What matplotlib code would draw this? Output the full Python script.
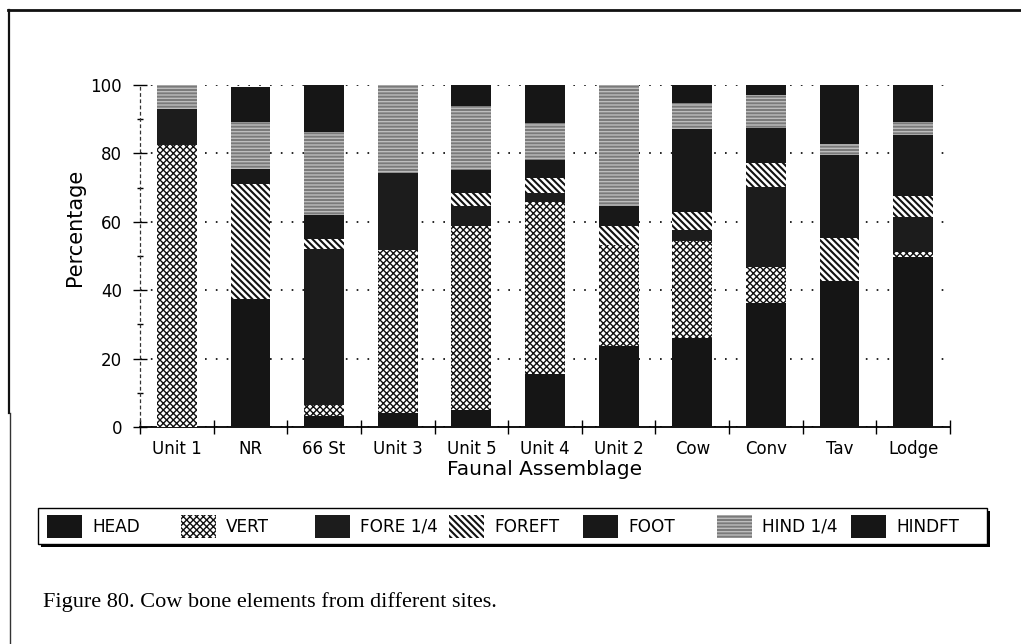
import numpy as np
import matplotlib
matplotlib.use("Agg")
import matplotlib.pyplot as plt
from matplotlib.patches import Rectangle
from matplotlib.lines import Line2D

# ----------------------------------------------------------------------
# Data: percentage of each cow bone element per site
# ----------------------------------------------------------------------
sites = ["Unit 1", "NR", "66 St", "Unit 3", "Unit 5", "Unit 4",
         "Unit 2", "Cow", "Conv", "Tav", "Lodge"]

elements = ["HEAD", "VERT", "FORE 1/4", "FOREFT", "FOOT", "HIND 1/4", "HINDFT"]

head    = [0.0, 37.4, 3.1, 4.1, 5.1, 15.6, 23.6, 26.0, 36.4, 42.8, 49.7]
vert    = [82.4, 0.0, 3.4, 47.7, 53.7, 50.3, 29.7, 28.5, 10.5, 0.0, 1.6]
fore_q  = [10.5, 0.0, 45.6, 22.4, 5.7, 2.6, 0.0, 3.1, 23.2, 0.0, 10.2]
foreft  = [0.0, 33.6, 2.8, 0.0, 3.9, 4.2, 5.6, 5.4, 7.0, 12.4, 5.9]
foot    = [0.0, 4.4, 7.1, 0.0, 6.8, 5.4, 5.8, 24.0, 10.2, 24.4, 18.0]
hind_q  = [7.1, 13.9, 24.4, 25.8, 18.7, 10.7, 35.3, 7.6, 9.8, 3.2, 3.9]
hindft  = [0.0, 10.2, 13.6, 0.0, 6.1, 11.2, 0.0, 5.4, 2.9, 17.2, 10.7]

series = [head, vert, fore_q, foreft, foot, hind_q, hindft]

# fill style per element: (face, hatch, hatch colour, hatch width)
styles = [
    ("#151515", None, "#151515", 1.0),
    ("white", "xxxxx", "#111111", 1.0),
    ("#1c1c1c", None, "#1c1c1c", 1.0),
    ("white", "\\\\\\\\\\", "#111111", 1.5),
    ("#181818", None, "#181818", 1.0),
    ("#7a7a7a", "-----", "#bdbdbd", 1.0),
    ("#161616", None, "#161616", 1.0),
]

plt.rcParams["font.family"] = ["DejaVu Sans"]
plt.rcParams["hatch.linewidth"] = 1.0


def set_hatch_width(patch, lw):
    # per-patch hatch width exists only in newer matplotlib
    if hasattr(patch, "set_hatch_linewidth"):
        patch.set_hatch_linewidth(lw)


fig = plt.figure(figsize=(10.21, 6.44), dpi=100)
W, H = 1021.0, 644.0

ax = fig.add_axes([140 / W, 1 - 427 / H, 810 / W, 342 / H])

x = np.arange(len(sites))
bottom = np.zeros(len(sites))
for vals, (face, hatch, hcol, hlw) in zip(series, styles):
    vals = np.array(vals)
    bars = ax.bar(x, vals, width=0.54, bottom=bottom, color=face, hatch=hatch,
                  edgecolor=hcol, linewidth=0, zorder=3)
    for b in bars:
        set_hatch_width(b, hlw)
    bottom += vals

ax.set_xlim(-0.5, len(sites) - 0.5)
ax.set_ylim(0, 100)

# category names under the bars, tick marks between the bars
ax.set_xticks(x)
ax.set_xticklabels(sites, fontsize=12)
ax.tick_params(axis="x", which="major", length=0, pad=9)
ax.set_xticks(np.arange(-0.5, len(sites)), minor=True)
ax.tick_params(axis="x", which="minor", direction="inout", length=10, width=1)

ax.set_yticks(np.arange(0, 101, 20))
ax.set_yticks(np.arange(10, 100, 20), minor=True)
ax.tick_params(axis="y", which="major", direction="inout", length=10,
               width=1, labelsize=12, pad=8)
ax.tick_params(axis="y", which="minor", direction="inout", length=4, width=1)

ax.yaxis.grid(True, which="major", color="black", linewidth=1.2,
              linestyle=(0, (1, 5.5)))
ax.set_axisbelow(True)

for side in ("top", "right"):
    ax.spines[side].set_visible(False)
ax.spines["bottom"].set_linewidth(1.3)
ax.spines["left"].set_linewidth(0.9)
ax.spines["left"].set_linestyle((0, (2, 3)))
ax.spines["left"].set_color("#333333")

ax.set_xlabel("Faunal Assemblage", fontsize=14.5, labelpad=2)
ax.set_ylabel("Percentage", fontsize=15)
ax.yaxis.set_label_coords(-0.068, 0.585)

# legend strip with a drop shadow
leg = fig.add_axes([38 / W, 1 - 544 / H, 949 / W, 36 / H])
leg.set_xlim(0, 949)
leg.set_ylim(0, 36)
leg.axis("off")
leg.add_patch(Rectangle((3, -3), 949, 36, facecolor="black",
                        edgecolor="none", clip_on=False, zorder=0))
leg.add_patch(Rectangle((0, 0), 949, 36, facecolor="white",
                        edgecolor="black", linewidth=1, clip_on=False, zorder=1))
for i, (name, (face, hatch, hcol, hlw)) in enumerate(zip(elements, styles)):
    x0 = 9 + 134 * i
    swatch = Rectangle((x0, 6), 35, 23, facecolor=face, hatch=hatch,
                       edgecolor=hcol, linewidth=0, zorder=2)
    set_hatch_width(swatch, hlw)
    leg.add_patch(swatch)
    leg.text(x0 + 45, 17.5, name, fontsize=12.2, va="center", ha="left", zorder=3)

# page frame around the figure
fig.add_artist(Line2D([8 / W, 1.0], [1 - 10 / H, 1 - 10 / H],
                      color="#111111", linewidth=2))
fig.add_artist(Line2D([9 / W, 9 / W], [1 - 10 / H, 1 - 413 / H],
                      color="#111111", linewidth=1.6))
fig.add_artist(Line2D([10 / W, 10 / W], [1 - 413 / H, 0.0],
                      color="#333333", linewidth=1.0))

fig.text(43 / W, 1 - 607 / H, "Figure 80. Cow bone elements from different sites.",
         family=["Liberation Serif"], fontsize=16, va="baseline", ha="left")

fig.savefig("out.png", dpi=100)
